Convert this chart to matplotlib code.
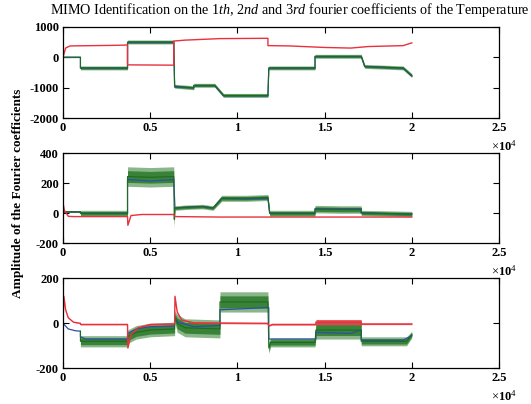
import numpy as np
import matplotlib
matplotlib.use('Agg')
import matplotlib.pyplot as plt
from matplotlib.ticker import FuncFormatter

plt.rcParams['font.family'] = ['Liberation Serif', 'DejaVu Serif']
plt.rcParams['mathtext.fontset'] = 'custom'
plt.rcParams['mathtext.rm'] = 'Liberation Serif'
plt.rcParams['mathtext.it'] = 'Liberation Serif:italic'
plt.rcParams['axes.unicode_minus'] = False

# colori delle tre serie
rosso = '#e8313c'
verde = '#2b7a2b'
blu = '#2c4fa8'

################################# dati letti dal grafico
# pannello 1
p1_red_x = [0, 150, 400, 3000, 3700, 3700, 6350, 6350, 7000, 9000, 11750, 11750, 13000, 15000, 16500, 17500, 19500, 20000]
p1_red_y = [0, 300, 370, 390, 400, -250, -260, 530, 560, 610, 620, 380, 370, 320, 300, 350, 380, 470]
p1_blue_x = [0, 1000, 1000, 3700, 3700, 6350, 6400, 7500, 7500, 8700, 9200, 11750, 11800, 14450, 14450, 17100, 17300, 19500, 20000]
p1_blue_y = [0, 0, -360, -360, 480, 480, -980, -1000, -930, -930, -1260, -1260, -360, -360, 20, 20, -310, -360, -620]
p1_g_x = [0, 1000, 1000, 3700, 3700, 6350, 6400, 7500, 7500, 8700, 9200, 11750, 11800, 14450, 14450, 17100, 17300, 19500, 20000]
p1_g_mid = [0, 0, -350, -350, 500, 500, -950, -1000, -920, -920, -1250, -1250, -350, -350, 30, 30, -300, -350, -600]
p1_g_hw = [15, 15, 65, 65, 65, 65, 65, 65, 65, 65, 65, 65, 65, 65, 65, 65, 65, 65, 65]

# pannello 2
p2_red_x = [0, 80, 300, 600, 3700, 3720, 3900, 4500, 6350, 6400, 6500, 9000, 12000, 17000, 20000]
p2_red_y = [70, 20, -20, -22, -22, -80, -15, -8, -8, -20, -22, -25, -25, -25, -25]
p2_blue_x = [0, 1000, 1000, 3700, 3700, 5000, 6350, 6420, 7000, 8000, 8600, 9100, 10500, 11750, 11850, 14450, 14450, 17100, 17100, 20000]
p2_blue_y = [10, 10, 0, 0, 225, 215, 225, 35, 40, 45, 35, 100, 95, 100, 0, 0, 30, 30, 2, -5]
p2_g_x = [0, 1000, 1000, 3700, 3700, 5000, 6350, 6380, 6420, 7000, 8000, 8600, 9100, 10500, 11750, 11850, 14450, 14450, 16000, 17100, 17100, 20000]
p2_g_mid = [10, 10, 0, 0, 245, 240, 245, -40, 35, 40, 45, 35, 100, 100, 105, 0, 0, 28, 25, 25, 2, -5]
p2_g_hw = [5, 5, 20, 20, 65, 65, 65, 60, 15, 15, 15, 15, 20, 20, 20, 20, 20, 25, 25, 25, 18, 18]

# pannello 3
p3_red_x = [0, 50, 150, 300, 600, 1000, 1000, 3700, 3720, 3900, 4300, 5000, 6400, 6420, 6550, 6800, 7500, 11750, 11800, 12000, 14500, 14500, 17100, 17100, 20000]
p3_red_y = [0, 120, 60, 25, 5, 0, -5, -5, -110, -50, -20, -5, -3, 120, 50, 15, 2, 0, -12, -5, -5, 5, 5, -3, -3]
p3_red_hw = [1, 1, 1, 1, 1, 1, 2, 2, 1, 1, 2, 3, 3, 1, 1, 2, 3, 3, 1, 3, 3, 12, 12, 3, 3]
p3_blue_x = [0, 300, 700, 1000, 1000, 1300, 3700, 3700, 4200, 5000, 6400, 6400, 6600, 7500, 9000, 9000, 11800, 11800, 14500, 14500, 16500, 17100, 17100, 19500, 20000]
p3_blue_y = [0, -25, -33, -35, -60, -70, -70, -45, -25, -15, -12, 25, 5, -15, -10, 60, 70, -70, -70, -40, -45, -30, -75, -75, -55]
p3_g_x = [1000, 1000, 3700, 3700, 4200, 5000, 6400, 6400, 6550, 7000, 9000, 9000, 11750, 11800, 11900, 14450, 14500, 17100, 17100, 19700, 20000]
p3_g_mid = [-35, -80, -80, -60, -40, -30, -25, 30, 0, -20, -25, 95, 95, -110, -85, -85, -30, -30, -80, -80, -50]
p3_g_hw = [5, 25, 25, 30, 30, 30, 30, 25, 40, 40, 40, 45, 45, 25, 20, 20, 40, 40, 20, 20, 15]

pannelli = [
    dict(red=(p1_red_x, p1_red_y, None), blue=(p1_blue_x, p1_blue_y), green=(p1_g_x, p1_g_mid, p1_g_hw),
         ylim=(-2000, 1000), yticks=[-2000, -1000, 0, 1000]),
    dict(red=(p2_red_x, p2_red_y, None), blue=(p2_blue_x, p2_blue_y), green=(p2_g_x, p2_g_mid, p2_g_hw),
         ylim=(-200, 400), yticks=[-200, 0, 200, 400]),
    dict(red=(p3_red_x, p3_red_y, p3_red_hw), blue=(p3_blue_x, p3_blue_y), green=(p3_g_x, p3_g_mid, p3_g_hw),
         ylim=(-200, 200), yticks=[-200, 0, 200]),
]

xticks = [0, 5000, 10000, 15000, 20000, 25000]

fig = plt.figure(figsize=(5.31, 4.04), dpi=100)
W, H = 531.0, 404.0
# posizioni in pixel (alto, basso) dei tre assi
box = [(26.7, 118.3), (153.3, 243.3), (278.3, 368.3)]
left, right = 63.0, 499.0

for k, p in enumerate(pannelli):
    top, bot = box[k]
    ax = fig.add_axes([left / W, 1 - bot / H, (right - left) / W, (bot - top) / H])

    bx, by = p['blue']
    ax.plot(bx, by, color=blu, lw=0.9)

    gx, gm, gh = p['green']
    gm = np.array(gm, dtype=float)
    gh = np.array(gh, dtype=float)
    # banda esterna sfumata + nucleo pieno
    ax.fill_between(gx, gm - gh, gm + gh, color=verde, lw=0, alpha=0.55)
    ax.fill_between(gx, gm - 0.6 * gh, gm + 0.6 * gh, color=verde, lw=0, alpha=0.85)
    ax.plot(gx, gm, color='#1f6a1f', lw=0.8)

    rx, ry, rh = p['red']
    if rh is not None:
        ry = np.array(ry, dtype=float)
        rh = np.array(rh, dtype=float)
        ax.fill_between(rx, ry - rh, ry + rh, color=rosso, lw=0, alpha=0.8)
    ax.plot(rx, ry, color=rosso, lw=1.0)

    ax.set_xlim(0, 25000)
    ax.set_ylim(*p['ylim'])
    ax.set_xticks(xticks)
    ax.set_yticks(p['yticks'])
    ax.xaxis.set_major_formatter(FuncFormatter(lambda v, pos: '%g' % (v / 1e4)))
    ax.tick_params(direction='in', top=True, right=True, length=4, width=0.8,
                   labelsize=9, pad=3)
    for lab in ax.get_xticklabels() + ax.get_yticklabels():
        lab.set_fontweight('bold')
    for s in ax.spines.values():
        s.set_linewidth(0.9)
    fig.text(504 / W, 1 - (bot + 28) / H, r'$\times$10$^4$', ha='center', va='center',
             fontsize=9, fontweight='bold')

fig.text(290 / W, 1 - 10 / H,
         r'MIMO Identification on the $1th$, $2nd$ and $3rd$ fourier coefficients of the Temperature',
         ha='center', va='center', fontsize=10.2)
fig.text(18 / W, 1 - 193 / H, 'Amplitude of the Fourier coefficients', rotation=90,
         ha='center', va='center', fontsize=9.5, fontweight='bold')

plt.savefig('out.png', dpi=100)
